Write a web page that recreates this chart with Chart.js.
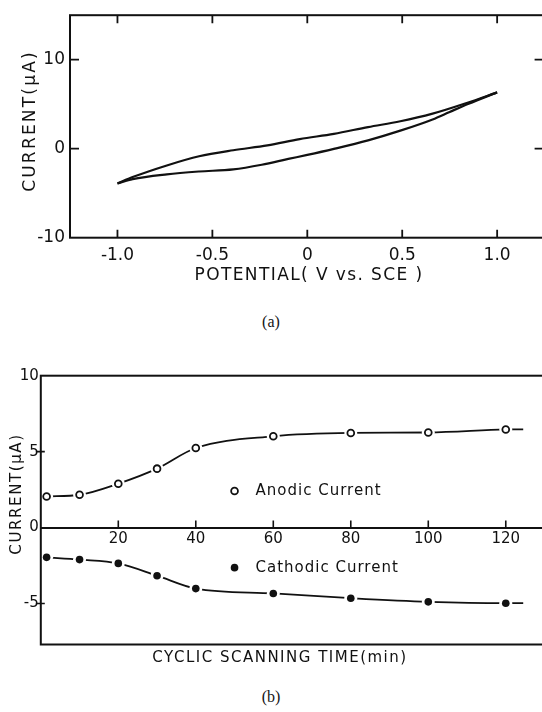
<!DOCTYPE html>
<html>
<head>
<meta charset="utf-8">
<script src="https://cdn.jsdelivr.net/npm/chart.js@4.4.1/dist/chart.umd.min.js"></script>
<style>
  html, body { margin: 0; padding: 0; background: #fff; overflow: hidden; }
  body { width: 542px; height: 712px; position: relative; }
  .panel { position: absolute; left: 0; }
  #panelA { top: 0; }
  #panelB { top: 360px; }
  .cap { position: absolute; left: 0; width: 542px; text-align: center;
         font-family: "Liberation Serif", serif; font-size: 16px; color: #141414; }
</style>
</head>
<body>
<div id="panelA" class="panel"><canvas id="cvChart" width="556" height="300"></canvas></div>
<div class="cap" style="top: 313px;">(a)</div>
<div id="panelB" class="panel"><canvas id="timeChart" width="560" height="320"></canvas></div>
<div class="cap" style="top: 688px;">(b)</div>
<script>
// (a) cyclic voltammogram
const potLower = [-1.0, -0.92, -0.74, -0.57, -0.39, -0.24, -0.10, 0.0, 0.14, 0.32, 0.49, 0.66, 0.75, 0.85, 1.0];
const curLower = [-3.9, -3.42, -2.88, -2.56, -2.32, -1.80, -1.15, -0.70, -0.02, 0.94, 2.03, 3.29, 4.13, 5.05, 6.33];
const potUpper = [-1.0, -0.92, -0.74, -0.57, -0.39, -0.21, -0.04, 0.14, 0.32, 0.49, 0.66, 0.84, 1.0];
const curUpper = [-3.9, -3.19, -1.88, -0.85, -0.17, 0.37, 1.08, 1.67, 2.43, 3.08, 3.94, 5.14, 6.33];
const potTicks = [-1.0, -0.5, 0, 0.5, 1.0];
const curTicksA = [-10, 0, 10];

// (b) peak current vs scanning time
const timeMin = [1.5, 10, 20, 30, 40, 60, 80, 100, 120];
const anodic = [2.05, 2.16, 2.89, 3.88, 5.24, 6.01, 6.23, 6.26, 6.46];
const cathodic = [-1.96, -2.11, -2.36, -3.17, -4.02, -4.34, -4.65, -4.89, -4.98];
const tailTime = [124.5];
const anodicTail = [6.47];
const cathodicTail = [-4.98];
const timeTicks = [20, 40, 60, 80, 100, 120];
const curTicksB = [-5, 0, 5, 10];
const seriesNames = ["Anodic Current", "Cathodic Current"];

const ink = "#111";
const font = "DejaVu Sans";

function pts(xs, ys) {
    return xs.map((v, i) => ({ x: v, y: ys[i] }));
}

function drawText(ctx, text, x, y, size, spacing, angle) {
    ctx.save();
    ctx.translate(x, y);
    if (angle) ctx.rotate(angle);
    ctx.font = size + "px '" + font + "'";
    ctx.letterSpacing = spacing + "px";
    ctx.fillStyle = ink;
    ctx.textAlign = "center";
    ctx.textBaseline = "middle";
    ctx.fillText(text, 0, 0);
    ctx.restore();
}

// frame, inward tick marks and axis titles for (a)
const frameA = {
    id: "frameA",
    afterDatasetsDraw(chart) {
        const { ctx, chartArea: a, scales: { x, y } } = chart;
        ctx.save();
        ctx.strokeStyle = ink;
        ctx.lineWidth = 2;
        ctx.strokeRect(a.left, a.top, a.right - a.left, a.bottom - a.top);
        ctx.lineWidth = 1.8;
        ctx.beginPath();
        potTicks.forEach(v => {
            const px = x.getPixelForValue(v);
            ctx.moveTo(px, a.bottom); ctx.lineTo(px, a.bottom - 8);
            ctx.moveTo(px, a.top); ctx.lineTo(px, a.top + 8);
        });
        curTicksA.slice(1).forEach(v => {
            const py = y.getPixelForValue(v);
            ctx.moveTo(a.left, py); ctx.lineTo(a.left + 9, py);
            ctx.moveTo(a.right, py); ctx.lineTo(a.right - 10, py);
        });
        ctx.stroke();
        ctx.restore();
        drawText(ctx, "POTENTIAL( V vs. SCE )", 309, 276, 17, 1.4);
        drawText(ctx, "CURRENT(μA)", 31, 121, 17, 2.2, -Math.PI / 2);
    }
};

new Chart(document.getElementById("cvChart"), {
    type: "scatter",
    data: {
        datasets: [
            { data: pts(potLower, curLower), showLine: true, borderColor: ink, borderWidth: 2.2,
              pointRadius: 0, cubicInterpolationMode: "monotone" },
            { data: pts(potUpper, curUpper), showLine: true, borderColor: ink, borderWidth: 2.2,
              pointRadius: 0, cubicInterpolationMode: "monotone" }
        ]
    },
    options: {
        responsive: false,
        animation: false,
        events: [],
        layout: { padding: { top: 7, right: 11.4, left: 0, bottom: 0 } },
        plugins: { legend: { display: false }, tooltip: { enabled: false } },
        scales: {
            x: {
                type: "linear", min: -1.25, max: 1.25,
                afterBuildTicks: s => { s.ticks = potTicks.map(v => ({ value: v })); },
                afterFit: s => { s.height = 62.3; },
                grid: { display: false, drawTicks: false },
                border: { display: false },
                ticks: {
                    color: ink, padding: 8, maxRotation: 0, autoSkip: false,
                    font: { family: font, size: 17 },
                    callback: v => v === 0 ? "0" : v.toFixed(1)
                }
            },
            y: {
                type: "linear", min: -10, max: 15,
                afterBuildTicks: s => { s.ticks = curTicksA.map(v => ({ value: v })); },
                afterFit: s => { s.width = 70; },
                grid: { display: false, drawTicks: false },
                border: { display: false },
                ticks: { color: ink, padding: 5, font: { family: font, size: 17 } }
            }
        }
    },
    plugins: [frameA]
});

// frame, ticks on the zero line, titles and the inline key for (b)
const frameB = {
    id: "frameB",
    afterDatasetsDraw(chart) {
        const { ctx, chartArea: a, scales: { x, y } } = chart;
        ctx.save();
        ctx.strokeStyle = ink;
        ctx.lineWidth = 2;
        ctx.strokeRect(a.left, a.top, a.right - a.left, a.bottom - a.top);
        const y0 = y.getPixelForValue(0);
        ctx.lineWidth = 1.6;
        ctx.beginPath();
        timeTicks.forEach(t => {
            const px = x.getPixelForValue(t);
            ctx.moveTo(px, y0); ctx.lineTo(px, y0 - 7);
        });
        [-5, 5].forEach(v => {
            const py = y.getPixelForValue(v);
            ctx.moveTo(a.left - 5, py); ctx.lineTo(a.left + 4, py);
        });
        ctx.stroke();

        // key markers
        const kx = x.getPixelForValue(50);
        const ka = y.getPixelForValue(2.41);
        const kc = y.getPixelForValue(-2.64);
        ctx.lineWidth = 1.8;
        ctx.fillStyle = "#fff";
        ctx.beginPath(); ctx.arc(kx, ka, 3.4, 0, Math.PI * 2); ctx.fill(); ctx.stroke();
        ctx.fillStyle = ink;
        ctx.beginPath(); ctx.arc(kx, kc, 3.8, 0, Math.PI * 2); ctx.fill();
        ctx.font = "15px '" + font + "'";
        ctx.letterSpacing = "1px";
        ctx.textAlign = "left";
        ctx.textBaseline = "middle";
        ctx.fillText(seriesNames[0], kx + 21, ka);
        ctx.fillText(seriesNames[1], kx + 21, kc);
        ctx.restore();

        drawText(ctx, "CYCLIC SCANNING TIME(min)", 280, 298, 15, 1.5);
        drawText(ctx, "CURRENT(μA)", 17, 134, 15, 1.6, -Math.PI / 2);
    }
};

const lineStyle = { showLine: true, borderColor: ink, borderWidth: 1.8, pointRadius: 0,
                    cubicInterpolationMode: "monotone", order: 3 };
const haloStyle = { pointRadius: 6.5, pointBackgroundColor: "#fff", pointBorderWidth: 0,
                    pointBorderColor: "#fff", order: 2 };

new Chart(document.getElementById("timeChart"), {
    type: "scatter",
    data: {
        datasets: [
            Object.assign({ data: pts(timeMin.concat(tailTime), anodic.concat(anodicTail)) }, lineStyle),
            Object.assign({ data: pts(timeMin.concat(tailTime), cathodic.concat(cathodicTail)) }, lineStyle),
            Object.assign({ data: pts(timeMin, anodic) }, haloStyle),
            Object.assign({ data: pts(timeMin, cathodic) }, haloStyle),
            { data: pts(timeMin, anodic), pointRadius: 3.4, pointBackgroundColor: "#fff",
              pointBorderColor: ink, pointBorderWidth: 1.8, order: 1 },
            { data: pts(timeMin, cathodic), pointRadius: 3.8, pointBackgroundColor: ink,
              pointBorderColor: ink, pointBorderWidth: 0, order: 1 }
        ]
    },
    options: {
        responsive: false,
        animation: false,
        events: [],
        layout: { padding: { top: 15.7, right: 11.6, left: 0, bottom: 0 } },
        plugins: { legend: { display: false }, tooltip: { enabled: false } },
        scales: {
            x: {
                type: "linear", min: 0, max: 131,
                afterFit: s => { s.height = 35.5; },
                grid: { display: false, drawTicks: false },
                border: { display: false },
                ticks: { display: false }
            },
            x2: {
                type: "linear", axis: "x", min: 0, max: 131,
                position: { y: 0 },
                afterBuildTicks: s => { s.ticks = timeTicks.map(v => ({ value: v })); },
                grid: { display: false, drawTicks: false },
                border: { display: true, color: ink, width: 2 },
                ticks: { color: ink, padding: 3, maxRotation: 0, autoSkip: false,
                         font: { family: font, size: 15 } }
            },
            y: {
                type: "linear", min: -7.7, max: 10,
                afterBuildTicks: s => { s.ticks = curTicksB.map(v => ({ value: v })); },
                afterFit: s => { s.width = 40.8; },
                grid: { display: false, drawTicks: false },
                border: { display: false },
                ticks: { color: ink, padding: 2, font: { family: font, size: 15 } }
            }
        }
    },
    plugins: [frameB]
});
</script>
</body>
</html>
